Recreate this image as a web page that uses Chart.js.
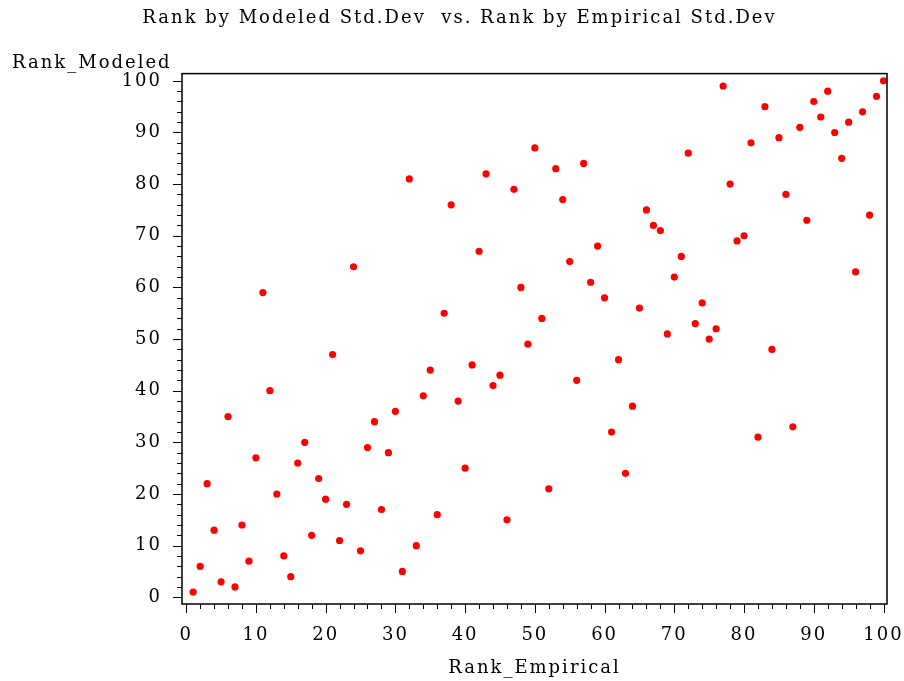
<!DOCTYPE html>
<html>
<head>
<meta charset="utf-8">
<script src="https://cdn.jsdelivr.net/npm/chart.js@4"></script>
<style>
  html, body { margin: 0; padding: 0; background: #fff; }
  #wrap { width: 904px; height: 681px; }
</style>
</head>
<body>
<div id="wrap"><canvas id="rankPlot"></canvas></div>
<script>
// data
const rankEmpirical = [
    1, 2, 3, 4, 5, 6, 7, 8, 9, 10,
    11, 12, 13, 14, 15, 16, 17, 18, 19, 20,
    21, 22, 23, 24, 25, 26, 27, 28, 29, 30,
    31, 32, 33, 34, 35, 36, 37, 38, 39, 40,
    41, 42, 43, 44, 45, 46, 47, 48, 49, 50,
    51, 52, 53, 54, 55, 56, 57, 58, 59, 60,
    61, 62, 63, 64, 65, 66, 67, 68, 69, 70,
    71, 72, 73, 74, 75, 76, 77, 78, 79, 80,
    81, 82, 83, 84, 85, 86, 87, 88, 89, 90,
    91, 92, 93, 94, 95, 96, 97, 98, 99, 100
];
const rankModeled = [
    1, 6, 22, 13, 3, 35, 2, 14, 7, 27,
    59, 40, 20, 8, 4, 26, 30, 12, 23, 19,
    47, 11, 18, 64, 9, 29, 34, 17, 28, 36,
    5, 81, 10, 39, 44, 16, 55, 76, 38, 25,
    45, 67, 82, 41, 43, 15, 79, 60, 49, 87,
    54, 21, 83, 77, 65, 42, 84, 61, 68, 58,
    32, 46, 24, 37, 56, 75, 72, 71, 51, 62,
    66, 86, 53, 57, 50, 52, 99, 80, 69, 70,
    88, 31, 95, 48, 89, 78, 33, 91, 73, 96,
    93, 98, 90, 85, 92, 63, 94, 74, 97, 100
];
const majorTicks = [0, 10, 20, 30, 40, 50, 60, 70, 80, 90, 100];
const minorTicks = [2, 4, 6, 8, 12, 14, 16, 18, 22, 24, 26, 28, 32, 34, 36, 38,
    42, 44, 46, 48, 52, 54, 56, 58, 62, 64, 66, 68, 72, 74, 76, 78,
    82, 84, 86, 88, 92, 94, 96, 98];

const FONT = "'DejaVu Serif', serif";

// the SAS font is wider than DejaVu Serif, so space the letters a bit
const spacingPlugin = {
    id: 'spacing',
    beforeLayout(chart) { if ('letterSpacing' in chart.ctx) chart.ctx.letterSpacing = '2px'; },
    beforeDraw(chart) { if ('letterSpacing' in chart.ctx) chart.ctx.letterSpacing = '2px'; }
};

// frame, tick marks and the horizontal y-axis label
const framePlugin = {
    id: 'frame',
    afterDraw(chart) {
        const {ctx, chartArea: a, scales} = chart;
        ctx.save();
        ctx.strokeStyle = '#000';
        ctx.lineWidth = 1.5;
        ctx.strokeRect(a.left, a.top, a.right - a.left, a.bottom - a.top);
        ctx.lineWidth = 1;
        ctx.beginPath();
        majorTicks.forEach(v => {
            const x = Math.round(scales.x.getPixelForValue(v)) + 0.5;
            ctx.moveTo(x, a.bottom); ctx.lineTo(x, a.bottom + 9);
            const y = Math.round(scales.y.getPixelForValue(v)) + 0.5;
            ctx.moveTo(a.left, y); ctx.lineTo(a.left - 9, y);
        });
        minorTicks.forEach(v => {
            const x = Math.round(scales.x.getPixelForValue(v)) + 0.5;
            ctx.moveTo(x, a.bottom); ctx.lineTo(x, a.bottom + 5);
            const y = Math.round(scales.y.getPixelForValue(v)) + 0.5;
            ctx.moveTo(a.left, y); ctx.lineTo(a.left - 5, y);
        });
        ctx.stroke();
        ctx.fillStyle = '#000';
        ctx.font = '18px ' + FONT;
        ctx.textAlign = 'left';
        ctx.textBaseline = 'alphabetic';
        ctx.fillText('Rank_Modeled', 12, 68);
        ctx.restore();
    }
};

document.addEventListener('DOMContentLoaded', function() {
    const points = rankEmpirical.map((x, i) => ({x: x, y: rankModeled[i]}));
    const ctx = document.getElementById('rankPlot').getContext('2d');
    new Chart(ctx, {
        type: 'scatter',
        data: {
            datasets: [{
                data: points,
                backgroundColor: '#ff0000',
                borderColor: '#ff0000',
                pointRadius: 3.6,
                pointHoverRadius: 3.6,
                borderWidth: 0
            }]
        },
        options: {
            responsive: true,
            maintainAspectRatio: false,
            animation: false,
            events: [],
            layout: {padding: {left: 15, right: 0, top: 0, bottom: 0}},
            plugins: {
                legend: {display: false},
                tooltip: {enabled: false},
                title: {
                    display: true,
                    text: 'Rank by Modeled Std.Dev  vs. Rank by Empirical Std.Dev',
                    color: '#000',
                    font: {family: FONT, size: 18, weight: 'normal'},
                    padding: {top: 8, bottom: 44}
                }
            },
            scales: {
                x: {
                    type: 'linear',
                    min: -0.6,
                    max: 100.5,
                    grid: {display: false},
                    border: {display: false},
                    afterBuildTicks: s => { s.ticks = majorTicks.map(v => ({value: v})); },
                    afterFit: s => { s.height = 77; s.paddingRight = 17; s.paddingLeft = 0; },
                    ticks: {
                        color: '#000',
                        padding: 13,
                        maxRotation: 0,
                        autoSkip: false,
                        font: {family: FONT, size: 18}
                    },
                    title: {
                        display: true,
                        text: 'Rank_Empirical',
                        color: '#000',
                        font: {family: FONT, size: 18},
                        padding: {top: 0, bottom: 2}
                    }
                },
                y: {
                    type: 'linear',
                    min: -1.3,
                    max: 101.4,
                    grid: {display: false},
                    border: {display: false},
                    afterBuildTicks: s => { s.ticks = majorTicks.map(v => ({value: v})); },
                    afterFit: s => { s.width = 167; },
                    ticks: {
                        color: '#000',
                        padding: 12,
                        autoSkip: false,
                        font: {family: FONT, size: 18}
                    }
                }
            }
        },
        plugins: [spacingPlugin, framePlugin]
    });
});
</script>
</body>
</html>
